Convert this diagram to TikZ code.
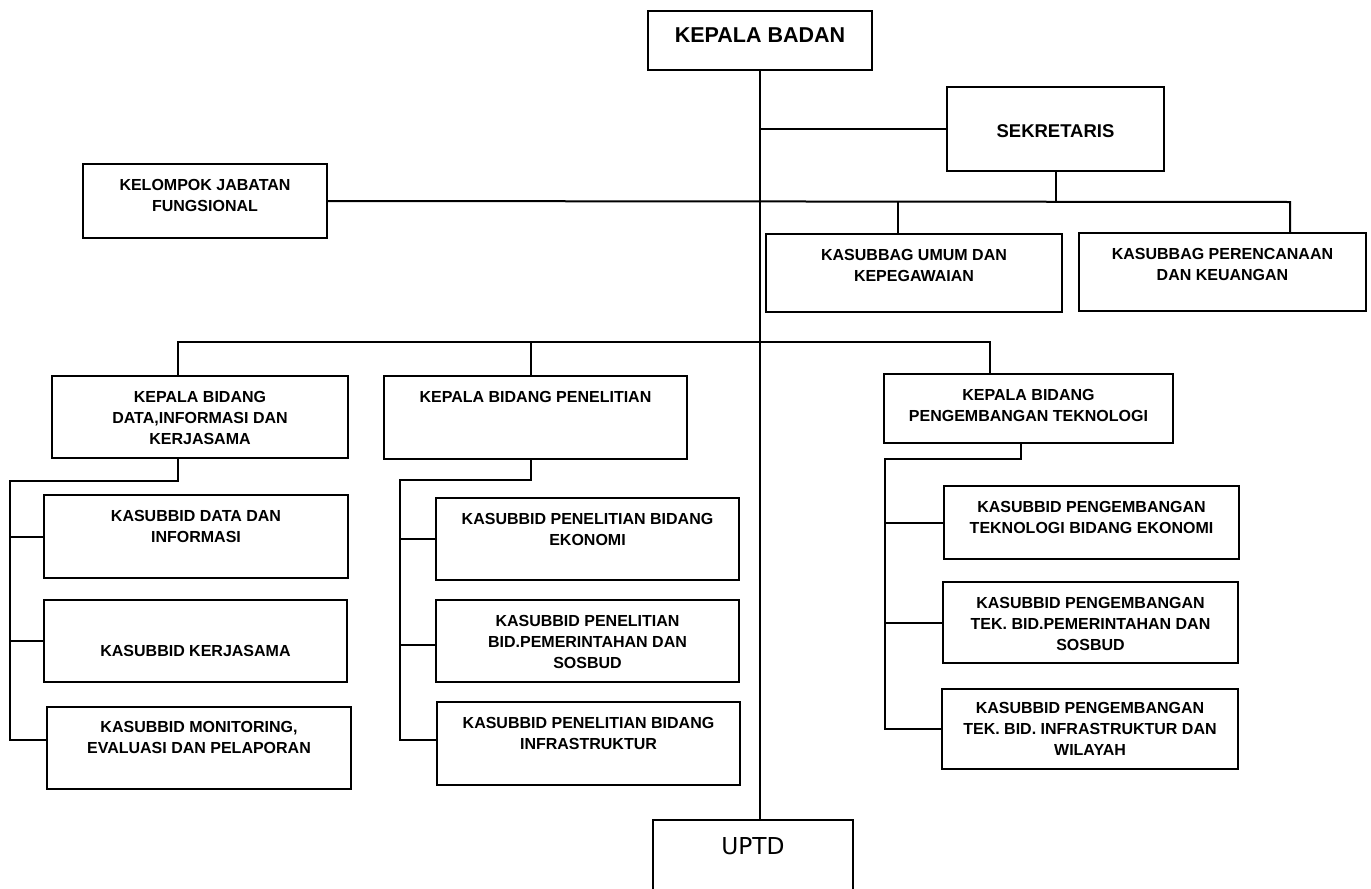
\documentclass[tikz,border=0pt]{standalone}
\usepackage{fontspec}
\setmainfont{Liberation Sans}
\newfontfamily\uptdfont{DejaVu Sans}
\usepackage{tikz}
\usetikzlibrary{shapes}

\begin{document}
\begin{tikzpicture}[x=1pt,y=-1pt,line width=2pt]
\tikzstyle{box} = [rectangle, draw, inner sep=0pt, minimum width=300, minimum height=82]
\tikzstyle{lbl} = [anchor=north, align=center, inner sep=0pt, yshift=-15.25pt, font=\bfseries\fontsize{16}{20.8}\selectfont]
\tikzstyle{open} = [rectangle, inner sep=0pt, minimum width=198, minimum height=68, text height=8pt, text depth=9pt, font=\uptdfont\fontsize{23.3}{28}\selectfont]
\useasboundingbox (0,0) rectangle (1371,889);

\node[box, minimum width=224, minimum height=59, label={[lbl, yshift=-1pt, font=\bfseries\fontsize{21.5}{25}\selectfont]north:KEPALA BADAN}] (kb) at (760,40.5) {};
\node[box, minimum width=217, minimum height=84, label={[lbl, yshift=-22.75pt, font=\bfseries\fontsize{18.5}{22}\selectfont]north:SEKRETARIS}] (sek) at (1055.5,129) {};
\node[box, minimum width=244, minimum height=74, label={[lbl]north:{KELOMPOK JABATAN\\FUNGSIONAL}}] (kel) at (205,201) {};
\node[box, minimum width=296, minimum height=78, label={[lbl]north:{KASUBBAG UMUM DAN\\KEPEGAWAIAN}}] (umum) at (914,273) {};
\node[box, minimum width=287, minimum height=78, label={[lbl]north:{KASUBBAG PERENCANAAN\\DAN KEUANGAN}}] (renc) at (1222.5,272) {};

\node[box, minimum width=296, label={[lbl]north:{KEPALA BIDANG\\DATA,INFORMASI DAN\\KERJASAMA}}] (kbdata) at (200,417) {};
\node[box, minimum width=303, minimum height=83, label={[lbl]north:KEPALA BIDANG PENELITIAN}] (kbpen) at (535.5,417.5) {};
\node[box, minimum width=289, minimum height=69, label={[lbl]north:{KEPALA BIDANG\\PENGEMBANGAN TEKNOLOGI}}] (kbtek) at (1028.5,408.5) {};

\node[box, minimum width=304, minimum height=83, label={[lbl]north:{KASUBBID DATA DAN\\INFORMASI}}] (sdata) at (196,536.5) {};
\node[box, minimum width=303, label={[lbl, yshift=-30pt]north:KASUBBID KERJASAMA}] (skerja) at (195.5,641) {};
\node[box, minimum width=304, label={[lbl, yshift=1pt]north:{KASUBBID MONITORING,\\EVALUASI DAN PELAPORAN}}] (smonev) at (199,748) {};

\node[box, minimum width=303, label={[lbl]north:{KASUBBID PENELITIAN BIDANG\\EKONOMI}}] (sekon) at (587.5,539) {};
\node[box, minimum width=303, label={[lbl]north:{KASUBBID PENELITIAN\\BID.PEMERINTAHAN DAN\\SOSBUD}}] (spem) at (587.5,641) {};
\node[box, minimum width=303, minimum height=83, label={[lbl]north:{KASUBBID PENELITIAN BIDANG\\INFRASTRUKTUR}}] (sinfra) at (588.5,743.5) {};

\node[box, minimum width=295, minimum height=73, label={[lbl]north:{KASUBBID PENGEMBANGAN\\TEKNOLOGI BIDANG EKONOMI}}] (tekon) at (1091.5,522.5) {};
\node[box, minimum width=295, minimum height=81, label={[lbl]north:{KASUBBID PENGEMBANGAN\\TEK. BID.PEMERINTAHAN DAN\\SOSBUD}}] (tekpem) at (1090.5,622.5) {};
\node[box, minimum width=296, minimum height=80, label={[lbl, yshift=2pt]north:{KASUBBID PENGEMBANGAN\\TEK. BID. INFRASTRUKTUR DAN\\WILAYAH}}] (tekinfra) at (1090,729) {};

\node[open] (uptd) at (753,855) {UPTD};
\draw (uptd.south west) |- (uptd.north east) -- (uptd.south east);

\draw (kb.south) -- (kb.south |- uptd.north);
\draw (kb.south |- sek.west) -- (sek.west);
\coordinate (bus) at (1290,202);
\coordinate (cu) at (898,202);
\draw (kel.east) -- (bus) -- (bus |- renc.north);
\draw (sek.south) -- (sek.south |- bus);
\draw (cu) -- (cu |- umum.north);

\coordinate (bd) at (178,342);
\coordinate (bp) at (530.7,342);
\coordinate (bt) at (990,342);
\draw (bd |- kbdata.north) -- (bd) -- (bt) -- (bt |- kbtek.north);
\draw (bp) -- (bp |- kbpen.north);

\coordinate (jd) at (178,481);
\coordinate (sd) at (10,481);
\coordinate (ed) at (10,740);
\draw (jd |- kbdata.south) -- (jd) -- (sd) -- (ed) -- (ed -| smonev.west);
\draw (sd |- sdata.west) -- (sdata.west);
\draw (sd |- skerja.west) -- (skerja.west);

\coordinate (jp) at (530.7,480);
\coordinate (sp) at (400,480);
\coordinate (mp) at (400,645);
\coordinate (ep) at (400,740);
\draw (jp |- kbpen.south) -- (jp) -- (sp) -- (ep) -- (ep -| sinfra.west);
\draw (sp |- sekon.west) -- (sekon.west);
\draw (mp) -- (mp -| spem.west);

\coordinate (jt) at (1021,459);
\coordinate (st) at (885,459);
\draw (jt |- kbtek.south) -- (jt) -- (st) -- (st |- tekinfra.west) -- (tekinfra.west);
\draw (st |- tekon.west) -- (tekon.west);
\draw (st |- tekpem.west) -- (tekpem.west);
\end{tikzpicture}
\end{document}
